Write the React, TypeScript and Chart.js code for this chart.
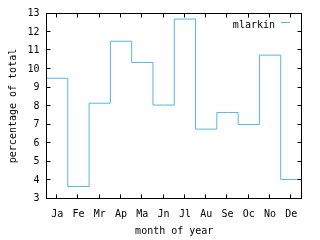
import { useEffect, useRef } from "react";
import { Chart, registerables } from "chart.js";

Chart.register(...registerables);

const months = ["Ja", "Fe", "Mr", "Ap", "Ma", "Jn", "Jl", "Au", "Se", "Oc", "No", "De"];
const percentages = [9.5, 3.65, 8.15, 11.5, 10.35, 8.05, 12.7, 6.75, 7.65, 7.0, 10.75, 4.03];
const yMin = 3;
const yMax = 13;
const seriesLabel = "mlarkin";
const xTitle = "month of year";
const yTitle = "percentage of total";
const lineColor = "#56b4e9";
const FONT = "'DejaVu Sans Mono', monospace";

const framePlugin = {
  id: "frame",
  afterDraw(chart: any) {
    const { ctx, chartArea: a, scales } = chart;
    const snap = (p: number) => Math.floor(p - 0.5) + 0.5;
    ctx.save();
    ctx.strokeStyle = "#000";
    ctx.lineWidth = 1;
    const l = snap(a.left), r = snap(a.right), t = snap(a.top), b = snap(a.bottom);
    ctx.strokeRect(l, t, r - l, b - t);
    const L = 4;
    ctx.beginPath();
    scales.x.ticks.forEach((tk: any) => {
      const px = snap(scales.x.getPixelForValue(tk.value));
      ctx.moveTo(px, b);
      ctx.lineTo(px, b - L);
      ctx.moveTo(px, t);
      ctx.lineTo(px, t + L);
    });
    scales.y.ticks.forEach((tk: any) => {
      const py = snap(scales.y.getPixelForValue(tk.value));
      ctx.moveTo(l, py);
      ctx.lineTo(l + L, py);
      ctx.moveTo(r, py);
      ctx.lineTo(r - L, py);
    });
    ctx.stroke();
    // legend
    const ds = chart.data.datasets[0];
    ctx.font = `10px ${FONT}`;
    ctx.fillStyle = "#000";
    ctx.textAlign = "right";
    ctx.textBaseline = "alphabetic";
    ctx.fillText(ds.label, 275, 27.5);
    ctx.strokeStyle = ds.borderColor;
    ctx.beginPath();
    ctx.moveTo(281, 22.5);
    ctx.lineTo(290, 22.5);
    ctx.stroke();
    ctx.restore();
  },
};

export default function App() {
  const ref = useRef<HTMLCanvasElement>(null);
  useEffect(() => {
    if (!ref.current) return;
    const points = [
      { x: 0.5, y: percentages[0] },
      ...percentages.map((v, i) => ({ x: i + 1, y: v })),
      { x: months.length + 0.5, y: percentages[percentages.length - 1] },
    ];
    const chart = new Chart(ref.current, {
      type: "line",
      data: {
        datasets: [
          {
            label: seriesLabel,
            data: points,
            borderColor: lineColor,
            borderWidth: 1,
            stepped: "middle",
            pointRadius: 0,
            fill: false,
          },
        ],
      },
      options: {
        animation: false,
        responsive: false,
        events: [],
        layout: { padding: { top: 13.5, right: 18, left: 0, bottom: 0 } },
        plugins: { legend: { display: false }, tooltip: { enabled: false } },
        scales: {
          x: {
            type: "linear",
            min: 0.5,
            max: months.length + 0.5,
            grid: { display: false, drawTicks: false },
            border: { display: false },
            afterBuildTicks: (axis: any) => {
              axis.ticks = months.map((_, i) => ({ value: i + 1 }));
            },
            afterFit: (axis: any) => {
              axis.height = 41.5;
            },
            ticks: {
              autoSkip: false,
              maxRotation: 0,
              padding: 10,
              color: "#000",
              font: { family: FONT, size: 10 },
              callback: (v: any) => months[Math.round(v) - 1] ?? "",
            },
            title: {
              display: true,
              text: xTitle,
              color: "#000",
              font: { family: FONT, size: 10 },
              padding: { top: 0, bottom: 3 },
            },
          },
          y: {
            min: yMin,
            max: yMax,
            grid: { display: false, drawTicks: false },
            border: { display: false },
            afterFit: (axis: any) => {
              axis.width = 46.5;
            },
            ticks: {
              stepSize: 1,
              padding: 7,
              color: "#000",
              font: { family: FONT, size: 10 },
            },
            title: {
              display: true,
              text: yTitle,
              color: "#000",
              font: { family: FONT, size: 10 },
              padding: { top: 7, bottom: 0 },
            },
          },
        },
      },
      plugins: [framePlugin],
    });
    return () => chart.destroy();
  }, []);
  return (
    <div style={{ position: "absolute", left: 0, top: 0, width: 320, height: 240 }}>
      <canvas ref={ref} width={320} height={240} />
    </div>
  );
}
